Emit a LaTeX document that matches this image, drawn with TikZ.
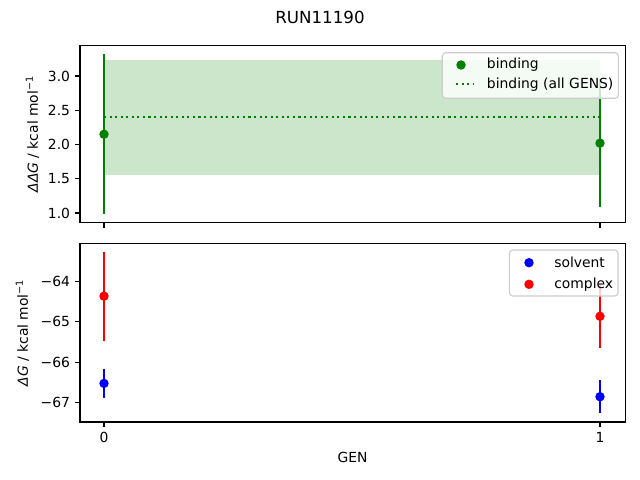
\documentclass[tikz,border=0pt]{standalone}
\usepackage{fontspec}
\setmainfont{DejaVu Sans}
\definecolor{mplgreen}{HTML}{008000}
\definecolor{mplband}{HTML}{CCE6CC}
\definecolor{legedge}{HTML}{CCCCCC}
\tikzset{
  spine/.style={line width=0.8pt},
  tickline/.style={line width=0.8pt},
  errbar/.style={line width=1.5pt},
  legbox/.style={draw=legedge, fill=white, fill opacity=0.8, rounded corners=2.5pt, line width=0.8pt},
}
\begin{document}
\begin{tikzpicture}[x=0.72pt, y=-0.72pt,
    declare function={gx(\g)=104+496*\g; ty(\v)=213-(\v-1)*68.5; by(\v)=281.7+(-64-\v)*40.2;}]
        \useasboundingbox (0,0) rectangle (640,480);
        \node (title) at (320,17) {\large RUN11190};

        % top panel: binding
        \fill[mplband] ({gx(0)},{ty(3.24)}) rectangle ({gx(1)},{ty(1.55)});
        \coordinate (allL) at ({gx(0)},{ty(2.405)});
        \coordinate (allR) at ({gx(1)},{ty(2.405)});
        \draw[mplgreen, line width=1.5pt, dash pattern=on 1.5pt off 2.5pt] (allL) -- (allR);
        \foreach \g/\v/\e in {0/2.15/1.17, 1/2.02/0.93} {
            \draw[errbar, mplgreen] ({gx(\g)},{ty(\v+\e)}) -- ({gx(\g)},{ty(\v-\e)});
            \fill[mplgreen] ({gx(\g)},{ty(\v)}) circle (3.4pt);
        }
        \draw[spine] (80,45.3) rectangle (625.3,222.7);
        \foreach \g in {0,1}
            \draw[tickline] ({gx(\g)},222.7) -- ++(0,4.86);
        \foreach \v in {1.0,1.5,2.0,2.5,3.0} {
            \draw[tickline] (80,{ty(\v)}) -- ++(-4.86,0);
            \node[anchor=east, inner sep=0pt] at (70.3,{ty(\v)}) {\v};
        }
        \node[rotate=90] (ylabtop) at (32.5,134) {{\itshape ΔΔG} / kcal mol\textsuperscript{−1}};

        % top legend
        \draw[legbox] (442.3,52.7) rectangle (618.3,98.3);
        \fill[mplgreen] (461,65) circle (3.4pt);
        \draw[mplgreen, line width=1.5pt, dash pattern=on 1.5pt off 2.5pt] (456,84.3) -- (474,84.3);
        \node[anchor=west, inner sep=0pt] (legbind) at (486.7,65) {binding};
        \node[anchor=west, inner sep=0pt] (legall) at (486.7,84.3) {binding (all GENS)};

        % bottom panel: solvent and complex
        \foreach \g/\v/\e in {0/-66.53/0.37, 1/-66.86/0.41} {
            \draw[errbar, blue] ({gx(\g)},{by(\v+\e)}) -- ({gx(\g)},{by(\v-\e)});
            \fill[blue] ({gx(\g)},{by(\v)}) circle (3.4pt);
        }
        \foreach \g/\v/\e in {0/-64.36/1.11, 1/-64.86/0.80} {
            \draw[errbar, red] ({gx(\g)},{by(\v+\e)}) -- ({gx(\g)},{by(\v-\e)});
            \fill[red] ({gx(\g)},{by(\v)}) circle (3.4pt);
        }
        \draw[spine] (80,243.3) rectangle (625.3,422);
        \foreach \g in {0,1} {
            \draw[tickline] ({gx(\g)},422) -- ++(0,4.86);
            \node[anchor=north, inner sep=0pt] at ({gx(\g)},431.7) {\g};
        }
        \foreach \w in {64,65,66,67} {
            \draw[tickline] (80,{by(-\w)}) -- ++(-4.86,0);
            \node[anchor=east, inner sep=0pt] at (70.3,{by(-\w)}) {−\w};
        }
        \node[rotate=90] (ylabbot) at (22.5,332.7) {{\itshape ΔG} / kcal mol\textsuperscript{−1}};
        \node (xlab) at (352.6,457) {GEN};

        % bottom legend
        \draw[legbox] (509.3,250) rectangle (618,296);
        \fill[blue] (529,262.7) circle (3.4pt);
        \fill[red] (529,284.3) circle (3.4pt);
        \node[anchor=west, inner sep=0pt] (legsolv) at (554,262.7) {solvent};
        \node[anchor=west, inner sep=0pt] (legcplx) at (554,284.3) {complex};
\end{tikzpicture}
\end{document}
